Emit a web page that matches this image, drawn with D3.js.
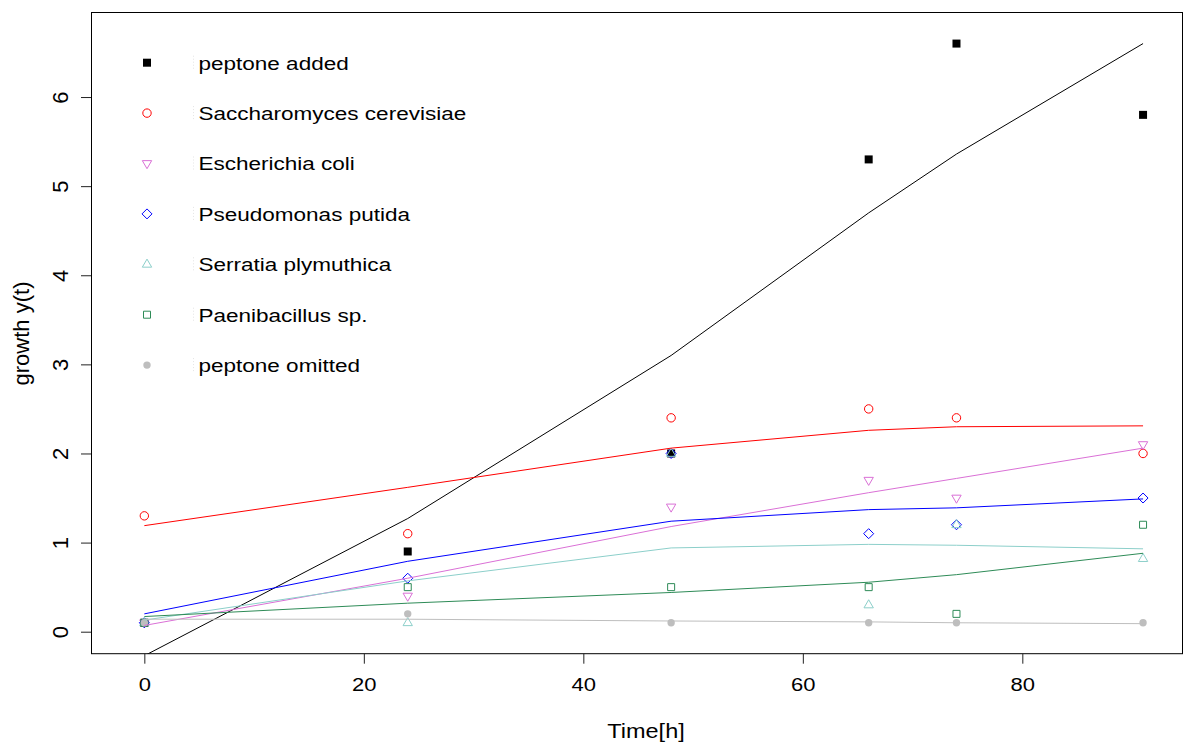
<!DOCTYPE html>
<html lang="en">
<head>
    <meta charset="UTF-8">
    <title>growth</title>
    <script src="https://d3js.org/d3.v7.min.js"></script>
    <style>
        body { margin: 0; background: #fff; }
        text { font-family: "Liberation Sans", Arial, Helvetica, sans-serif; }
    </style>
</head>
<body>

<script>
    // sampling times [h]
    const time = [0, 24, 48, 66, 74, 91]

    // measured growth
    const peptoneAdded   = [0.1, 0.9, 2.0, 5.3, 6.6, 5.8]
    const saccharomyces  = [1.3, 1.1, 2.4, 2.5, 2.4, 2.0]
    const escherichia    = [0.1, 0.4, 1.4, 1.7, 1.5, 2.1]
    const pseudomonas    = [0.1, 0.6, 2.0, 1.1, 1.2, 1.5]
    const serratia       = [0.1, 0.1, 2.0, 0.3, 1.2, 0.82]
    const paenibacillus  = [0.1, 0.5, 0.5, 0.5, 0.2, 1.2]
    const peptoneOmitted = [0.1, 0.2, 0.1, 0.1, 0.1, 0.1]

    // fitted curves
    const fitAdded   = [-0.27, 1.27, 3.1, 4.7, 5.36, 6.6]
    const fitSacch   = [1.19, 1.62, 2.06, 2.26, 2.30, 2.31]
    const fitEsch    = [0.07, 0.60, 1.18, 1.56, 1.72, 2.06]
    const fitPseudo  = [0.2, 0.79, 1.24, 1.37, 1.39, 1.49]
    const fitSerr    = [0.13, 0.57, 0.94, 0.98, 0.97, 0.93]
    const fitPaeni   = [0.17, 0.32, 0.44, 0.555, 0.64, 0.88]
    const fitOmit    = [0.14, 0.14, 0.12, 0.11, 0.10, 0.09]

    const names = ["peptone added", "Saccharomyces cerevisiae", "Escherichia coli",
        "Pseudomonas putida", "Serratia plymuthica", "Paenibacillus sp.", "peptone omitted"]
    const xTicks = [0, 20, 40, 60, 80]
    const yTicks = [0, 1, 2, 3, 4, 5, 6]

    const series = [
        {name: names[0], obs: peptoneAdded,   fit: fitAdded,  color: "#000000", pch: "sqfill"},
        {name: names[1], obs: saccharomyces,  fit: fitSacch,  color: "#ff0000", pch: "circle"},
        {name: names[2], obs: escherichia,    fit: fitEsch,   color: "#da70d6", pch: "tridown"},
        {name: names[3], obs: pseudomonas,    fit: fitPseudo, color: "#0000ff", pch: "diamond"},
        {name: names[4], obs: serratia,       fit: fitSerr,   color: "#8ccfca", pch: "triup"},
        {name: names[5], obs: paenibacillus,  fit: fitPaeni,  color: "#2e8b57", pch: "square"},
        {name: names[6], obs: peptoneOmitted, fit: fitOmit,   color: "#bebebe", pch: "dot"}
    ]

    //chart dimensions
    const w = 1185, h = 742
    const box = {left: 91, right: 1183, top: 12.3, bottom: 653.7}

    const svg = d3.select("body")
        .append("svg")
        .attr("width", w)
        .attr("height", h)

    //scales
    const x = d3.scaleLinear().domain([-4.86, 94.64]).range([box.left, box.right])
    const y = d3.scaleLinear().domain([-0.247, 6.951]).range([box.bottom, box.top])

    svg.append("clipPath").attr("id", "plotclip")
        .append("rect")
        .attr("x", box.left).attr("y", box.top)
        .attr("width", box.right - box.left).attr("height", box.bottom - box.top)

    // R-like point shapes
    const shapes = {
        sqfill:  {draw(c, r) { c.rect(-r, -r, 2 * r, 2 * r) }},
        square:  {draw(c, r) { c.rect(-r, -r, 2 * r, 2 * r) }},
        circle:  {draw(c, r) { c.moveTo(r, 0); c.arc(0, 0, r, 0, 2 * Math.PI) }},
        dot:     {draw(c, r) { c.moveTo(r, 0); c.arc(0, 0, r, 0, 2 * Math.PI) }},
        diamond: {draw(c, r) { c.moveTo(0, -r); c.lineTo(r, 0); c.lineTo(0, r); c.lineTo(-r, 0); c.closePath() }},
        triup:   {draw(c, r) { c.moveTo(0, -r); c.lineTo(r * 0.9, r * 0.55); c.lineTo(-r * 0.9, r * 0.55); c.closePath() }},
        tridown: {draw(c, r) { c.moveTo(0, r); c.lineTo(r * 0.9, -r * 0.55); c.lineTo(-r * 0.9, -r * 0.55); c.closePath() }}
    }
    const shapeSize = {sqfill: 4, square: 3.5, circle: 4.2, dot: 3.7, diamond: 5, triup: 5.2, tridown: 5.2}
    const filled = {sqfill: true, dot: true}

    function marker(sel, s) {
        sel.attr("d", d3.symbol(shapes[s.pch], shapeSize[s.pch])())
            .attr("fill", filled[s.pch] ? s.color : "none")
            .attr("stroke", filled[s.pch] ? "none" : s.color)
            .attr("stroke-width", 1)
    }

    //points
    series.forEach(s => {
        svg.append("g").selectAll("path")
            .data(time.map((t, i) => [t, s.obs[i]]))
            .join("path")
            .attr("transform", d => "translate(" + x(d[0]) + "," + y(d[1]) + ")")
            .call(marker, s)
    })

    //fitted lines
    const line = d3.line().x(d => x(d[0])).y(d => y(d[1]))
    series.forEach(s => {
        svg.append("path")
            .attr("clip-path", "url(#plotclip)")
            .attr("d", line(time.map((t, i) => [t, s.fit[i]])))
            .attr("fill", "none")
            .attr("stroke", s.color)
            .attr("stroke-width", 1)
    })

    //box
    svg.append("rect")
        .attr("x", box.left + 0.5).attr("y", 12.5)
        .attr("width", box.right - box.left - 1).attr("height", box.bottom - 12.5)
        .attr("fill", "none").attr("stroke", "#000").attr("stroke-width", 1)

    //axes
    const xAxis = svg.append("g")
        .attr("transform", "translate(0," + box.bottom + ")")
        .call(d3.axisBottom(x).tickValues(xTicks).tickSize(10).tickSizeOuter(0))
    xAxis.select(".domain").remove()
    xAxis.selectAll("line").attr("stroke", "#222")
    xAxis.selectAll("text")
        .attr("y", 0).attr("dy", null)
        .attr("transform", "translate(0,36.8) scale(1,0.8)")
        .attr("font-size", 22).attr("fill", "#000")

    const yAxis = svg.append("g")
        .attr("transform", "translate(" + box.left + ",0)")
        .call(d3.axisLeft(y).tickValues(yTicks).tickSize(10).tickSizeOuter(0))
    yAxis.select(".domain").remove()
    yAxis.selectAll("line").attr("stroke", "#222")
    yAxis.selectAll("text")
        .attr("x", 0).attr("y", -23).attr("dy", null)
        .attr("text-anchor", "middle")
        .attr("transform", "rotate(-90)")
        .attr("font-size", 22).attr("fill", "#000")

    //axis titles
    svg.append("text")
        .attr("transform", "translate(646,738) scale(1,0.88)")
        .attr("text-anchor", "middle")
        .attr("font-size", 23.5)
        .text("Time[h]")

    svg.append("text")
        .attr("transform", "translate(29,333.5) rotate(-90)")
        .attr("text-anchor", "middle")
        .attr("font-size", 22)
        .text("growth y(t)")

    //legend
    const legend = svg.append("g")
    series.forEach((s, i) => {
        const ly = 62.7 + i * 50.4
        legend.append("path")
            .attr("transform", "translate(147," + ly + ")")
            .call(marker, s)
        legend.append("line")
            .attr("x1", 193.5).attr("x2", 193.5)
            .attr("y1", ly - 7).attr("y2", ly + 7)
            .attr("stroke", "#e4e4e4").attr("stroke-dasharray", "1,2")
        legend.append("text")
            .attr("transform", "translate(198.5," + (ly + 6.8) + ") scale(1.01,0.82)")
            .attr("font-size", 22.3)
            .attr("fill", "#000")
            .text(s.name)
    })
</script>

</body>
</html>
